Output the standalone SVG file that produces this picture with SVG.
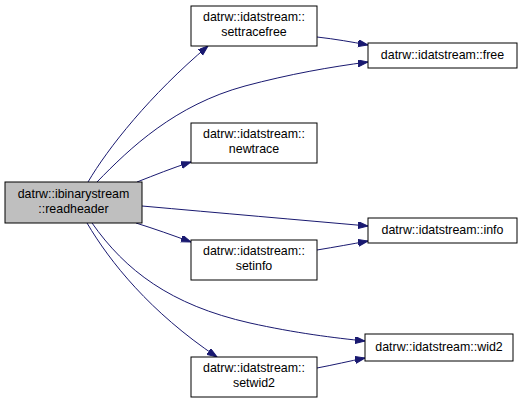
<svg xmlns="http://www.w3.org/2000/svg" width="525" height="404" viewBox="0 0 525 404">
<defs>
<style>
.node rect{fill:#fff;stroke:#000;stroke-width:1}
.node.cur rect{fill:#bfbfbf}
.node text{font-family:"Liberation Sans",Arial,Helvetica,sans-serif;font-size:12.4px;text-anchor:middle;fill:#000}
.edges path{fill:none;stroke:#191970;stroke-width:1}
</style>
<marker id="ah" markerUnits="userSpaceOnUse" markerWidth="11" markerHeight="8" refX="10" refY="3.5" orient="auto">
<path d="M0,0 L10,3.5 L0,7 z" fill="#191970" stroke="#191970" stroke-width="1"/>
</marker>
</defs>
<rect width="525" height="404" fill="#fff"/>
<g class="edges">
<path d="M88,182 C108,148 150,95 208,46" marker-end="url(#ah)"/>
<path d="M97,182 C130,148 175,105 245,86 C290,74 330,67 368,62" marker-end="url(#ah)"/>
<path d="M137,182 C155,175 172,168 191,162" marker-end="url(#ah)"/>
<path d="M142,206 C220,213 300,220 368,226" marker-end="url(#ah)"/>
<path d="M136,223 C155,229 172,235 191,242" marker-end="url(#ah)"/>
<path d="M92,223 C125,270 170,305 250,323 C295,333 335,338 365,341" marker-end="url(#ah)"/>
<path d="M87,223 C110,262 150,312 217,357" marker-end="url(#ah)"/>
<path d="M317,37 C335,39 352,42 368,45" marker-end="url(#ah)"/>
<path d="M317,250 C335,247 352,244 368,241" marker-end="url(#ah)"/>
<path d="M317,368 C333,365 350,361 365,358" marker-end="url(#ah)"/>
</g>
<g id="readheader" class="node cur">
<rect x="5" y="182" width="137" height="41"/>
<text x="73.5" y="198">datrw::ibinarystream</text>
<text x="73.5" y="213">::readheader</text>
</g>
<g id="settracefree" class="node">
<rect x="191" y="6" width="126" height="40"/>
<text x="254" y="21">datrw::idatstream::</text>
<text x="254" y="36">settracefree</text>
</g>
<g id="free" class="node">
<rect x="368" y="43" width="149" height="25"/>
<text x="442.5" y="59">datrw::idatstream::free</text>
</g>
<g id="newtrace" class="node">
<rect x="191" y="123" width="126" height="40"/>
<text x="254" y="138">datrw::idatstream::</text>
<text x="254" y="153">newtrace</text>
</g>
<g id="info" class="node">
<rect x="368" y="218" width="149" height="25"/>
<text x="442.5" y="234">datrw::idatstream::info</text>
</g>
<g id="setinfo" class="node">
<rect x="191" y="240" width="126" height="40"/>
<text x="254" y="255">datrw::idatstream::</text>
<text x="254" y="270">setinfo</text>
</g>
<g id="wid2" class="node">
<rect x="365" y="334" width="148" height="27"/>
<text x="439" y="351">datrw::idatstream::wid2</text>
</g>
<g id="setwid2" class="node">
<rect x="191" y="357" width="126" height="40"/>
<text x="254" y="372">datrw::idatstream::</text>
<text x="254" y="387">setwid2</text>
</g>
</svg>
